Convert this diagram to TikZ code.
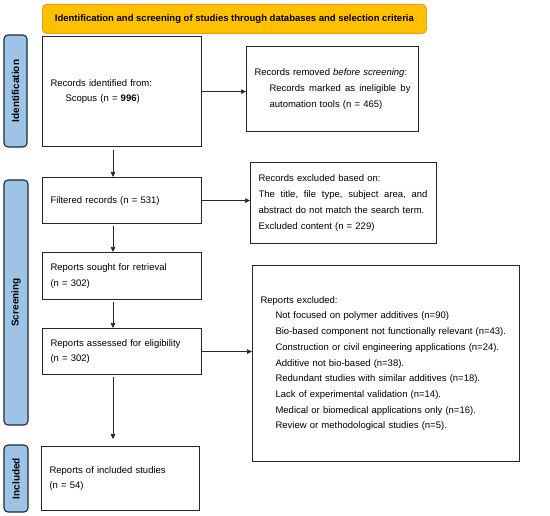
\documentclass[tikz,border=0pt]{standalone}
\usepackage{fontspec}
\setmainfont{Liberation Sans}
\usetikzlibrary{arrows.meta,calc}
\definecolor{titlefill}{RGB}{255,192,0}
\definecolor{titledraw}{RGB}{230,160,20}
\definecolor{barfill}{RGB}{157,195,230}
\definecolor{bardraw}{RGB}{30,40,55}
\newcommand{\ind}{\hspace*{15pt}}
\newcommand{\gp}{\hfil\ }
\begin{document}
\begin{tikzpicture}[x=1pt,y=-1pt,
  box/.style={draw=black!85, line width=1.1pt, rectangle, align=left, inner xsep=8pt, inner ysep=0pt,
    font=\fontsize{9.5}{15.7}\selectfont, anchor=north west},
  sidebar/.style={draw=bardraw, fill=barfill, line width=1.1pt, rounded corners=4pt, rotate=90,
    font=\fontsize{10}{12}\selectfont\bfseries, inner sep=0pt},
  flow/.style={draw=black!85, line width=0.7pt, -{Triangle[length=5pt,width=4.5pt]}}
]
\useasboundingbox (0,0) rectangle (550,516);
\fill[white] (0,0) rectangle (550,516);

% title
\node[draw=titledraw, fill=titlefill, line width=0.8pt, rounded corners=4pt, anchor=north west,
  minimum width=384, minimum height=29, inner sep=0pt, font=\fontsize{9.5}{11}\selectfont\bfseries]
  (title) at (42,4) {Identification and screening of studies through databases and selection criteria};

% side bars
\node[sidebar, minimum width=112, minimum height=23] (sid) at (15.5,91) {Identification};
\node[sidebar, minimum width=245, minimum height=24] (sscr) at (16,302.5) {Screening};
\node[sidebar, minimum width=67, minimum height=24] (sinc) at (16,478.5) {Included};

% boxes
\node[box, minimum width=159, minimum height=110, text width=143] (b1) at (42,36)
  {Records identified from:\\ \ind Scopus (n = \textbf{996})};
\node[box, minimum width=172, minimum height=85, text width=156] (b2) at (246,46)
  {Records removed \textit{before screening}:\\ \leavevmode\ind\hbox to 141pt{Records\gp marked\gp as\gp ineligible\gp by}\\ \ind automation tools (n = 465)};
\node[box, minimum width=159, minimum height=46, text width=143] (b3) at (42,177)
  {Filtered records (n = 531)};
\node[box, minimum width=186, minimum height=81, text width=170] (b4) at (250,162)
  {Records excluded based on:\\ \leavevmode\hbox to 169pt{The\gp title,\gp file\gp type,\gp subject\gp area,\gp and}\\ abstract do not match the search term.\\ Excluded content (n = 229)};
\node[box, minimum width=159, minimum height=47, text width=143] (b5) at (42,252)
  {Reports sought for retrieval\\ (n = 302)};
\node[box, minimum width=159, minimum height=46, text width=143] (b6) at (42,328)
  {Reports assessed for eligibility\\ (n = 302)};
\node[box, minimum width=267, minimum height=196, text width=251] (b7) at (252,265)
  {Reports excluded:\\
   \ind Not focused on polymer additives (n=90)\\
   \ind Bio-based component not functionally relevant (n=43).\\
   \ind Construction or civil engineering applications (n=24).\\
   \ind Additive not bio-based (n=38).\\
   \ind Redundant studies with similar additives (n=18).\\
   \ind Lack of experimental validation (n=14).\\
   \ind Medical or biomedical applications only (n=16).\\
   \ind Review or methodological studies (n=5).};
\node[box, minimum width=158, minimum height=64, text width=142] (b8) at (41,446)
  {Reports of included studies\\ (n = 54)};

% connectors
\coordinate (ax) at (113,0);
\draw[flow] (b1.east) -- (b1.east -| b2.west);
\draw[flow] (b3.east) -- (b3.east -| b4.west);
\draw[flow] (b6.east) -- (b6.east -| b7.west);
\draw[flow, shorten <=3pt] (b1.south -| ax) -- (b3.north -| ax);
\draw[flow, shorten <=2pt] (b3.south -| ax) -- (b5.north -| ax);
\draw[flow, shorten <=2pt] (b5.south -| ax) -- (b6.north -| ax);
\draw[flow, shorten <=2pt, shorten >=7pt] (b6.south -| ax) -- (b8.north -| ax);
\end{tikzpicture}
\end{document}
